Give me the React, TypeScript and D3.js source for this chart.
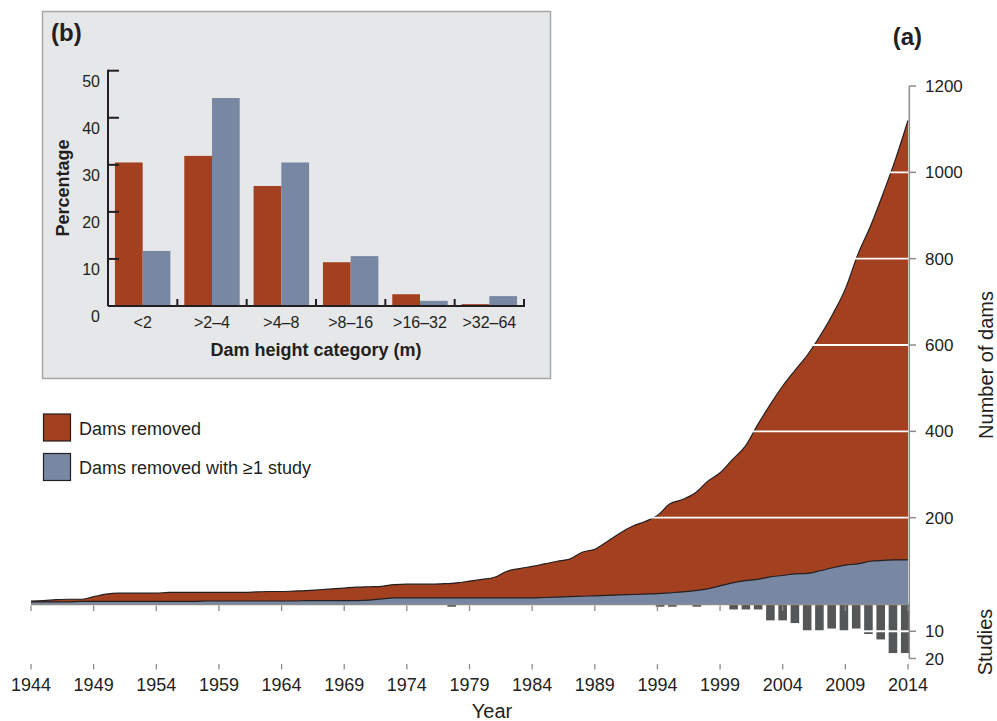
import * as d3 from 'd3'
import { useEffect } from 'react'

// panel (a): cumulative dam removals per year, 1944-2014
const years = d3.range(1944, 2015)
const damsRemoved = [
  7, 8, 10, 11, 11, 17, 23, 25, 25, 25, 25, 27, 27, 27, 27, 27, 27, 27, 28, 29,
  29, 30, 31, 33, 35, 37, 39, 40, 41, 45, 46, 46, 46, 47, 49, 53, 57, 62, 76, 82,
  87, 93, 99, 104, 120, 127, 145, 164, 180, 191, 205, 232, 242, 257, 284, 304, 335, 365, 415, 462,
  505, 542, 578, 622, 672, 730, 810, 875, 950, 1030, 1120,
]
const damsStudied = [
  5, 5, 5, 5, 6, 6, 6, 6, 6, 6, 6, 6, 6, 6, 7, 7, 7, 7, 7, 7,
  7, 7, 8, 8, 8, 8, 8, 9, 12, 14, 14, 14, 14, 14, 14, 14, 14, 14, 14, 14,
  14, 15, 16, 17, 18, 19, 20, 21, 22, 23, 24, 26, 28, 31, 35, 42, 49, 54, 57, 63,
  66, 70, 71, 77, 84, 90, 93, 99, 101, 102, 102,
]
const studyYears = [1977, 1994, 1995, 1997, 2000, 2001, 2002, 2003, 2004, 2005, 2006, 2007, 2008, 2009, 2010, 2011, 2012, 2013, 2014]
const studyCounts = [1, 1, 1, 1, 2, 2, 2, 6, 6, 7, 10, 10, 9, 10, 9, 11, 13, 18, 18]
const yearTicks = d3.range(1944, 2015, 5)
const damTicks = [200, 400, 600, 800, 1000, 1200]
const studyTicks = [10, 20]

// panel (b): share of dams by height class
const heightCats = ['<2', '>2–4', '>4–8', '>8–16', '>16–32', '>32–64']
const pctRemoved = [30.5, 31.9, 25.5, 9.3, 2.5, 0.4]
const pctStudied = [11.7, 44.2, 30.5, 10.6, 1.1, 2.1]
const pctTicks = [0, 10, 20, 30, 40, 50]

const RED = '#a3401f'
const BLUE = '#7888a3'
const BAR = '#555657'
const INK = '#231f20'
const AXIS = '#8c8c8c'
const FONT = '"Liberation Sans", Arial, Helvetica, sans-serif'

export default function App() {
  useEffect(() => {
    document.body.style.margin = '0'
  }, [])

  const x = d3.scaleLinear().domain([1944, 2014]).range([31, 908])
  const y = d3.scaleLinear().domain([0, 1200]).range([604, 86])
  const ys = d3.scaleLinear().domain([0, 20]).range([604, 658.5])
  const xBar = d3.scaleBand<number>().domain(years).range([43, 909.5]).paddingInner(0.3)

  const area = d3
    .area<number>()
    .x((_, i) => x(years[i]))
    .y0(y(0))
    .y1((d) => y(d))
    .curve(d3.curveMonotoneX)
  const line = d3
    .line<number>()
    .x((_, i) => x(years[i]))
    .y((d) => y(d))
    .curve(d3.curveMonotoneX)

  // inset scales
  const bx = d3.scaleBand<string>().domain(heightCats).range([108, 524]).paddingInner(0.2).paddingOuter(0.1)
  const bSub = d3.scaleBand<string>().domain(['removed', 'studied']).range([0, bx.bandwidth()])
  const by = d3.scaleLinear().domain([0, 50]).range([306, 70.7])
  const step = bx.step()

  return (
    <svg width={997} height={721} style={{ display: 'block', fontFamily: FONT }}>
      <rect width={997} height={721} fill="#fff" />

      {/* areas */}
      <path d={area(damsRemoved) ?? ''} fill={RED} />
      <path d={line(damsRemoved) ?? ''} fill="none" stroke={INK} strokeWidth={1.2} />
      <path d={area(damsStudied) ?? ''} fill={BLUE} />
      <path d={line(damsStudied) ?? ''} fill="none" stroke={INK} strokeWidth={1.2} />
      {damTicks.slice(0, -1).map((t) => (
        <line key={t} x1={x(1944)} x2={x(2014)} y1={y(t)} y2={y(t)} stroke="#fff" strokeWidth={1.8} />
      ))}

      {/* studies bars */}
      {studyYears.map((yr, i) => (
        <rect key={yr} x={xBar(yr)} y={ys(0)} width={xBar.bandwidth()} height={ys(studyCounts[i]) - ys(0)} fill={BAR} />
      ))}
      <line x1={x(1944)} x2={909} y1={ys(10)} y2={ys(10)} stroke="#fff" strokeWidth={1.8} />

      {/* baseline and x axis */}
      <line x1={x(1944)} x2={909} y1={604.5} y2={604.5} stroke={AXIS} strokeWidth={1.5} />
      {yearTicks.map((t) => (
        <g key={t}>
          <line x1={x(t)} x2={x(t)} y1={605.5} y2={611} stroke={AXIS} strokeWidth={1.3} />
          <line x1={x(t)} x2={x(t)} y1={664} y2={669.5} stroke={AXIS} strokeWidth={1.3} />
          <text x={x(t)} y={691} textAnchor="middle" fontSize={18} fill={INK}>
            {t}
          </text>
        </g>
      ))}
      <text x={492} y={718} textAnchor="middle" fontSize={20} fill={INK}>
        Year
      </text>

      {/* right axis */}
      <line x1={909.3} x2={909.3} y1={y(1200)} y2={ys(20)} stroke={AXIS} strokeWidth={1.5} />
      {damTicks.map((t) => (
        <g key={t}>
          <line x1={909.3} x2={916} y1={y(t)} y2={y(t)} stroke={AXIS} strokeWidth={1.5} />
          <text x={925} y={y(t)} dy="0.36em" fontSize={17} fill={INK}>
            {t}
          </text>
        </g>
      ))}
      {studyTicks.map((t) => (
        <g key={t}>
          <line x1={909.3} x2={916} y1={ys(t)} y2={ys(t)} stroke={AXIS} strokeWidth={1.5} />
          <text x={925} y={ys(t)} dy="0.36em" fontSize={17} fill={INK}>
            {t}
          </text>
        </g>
      ))}
      <text transform="translate(986,365) rotate(-90)" textAnchor="middle" dy="0.36em" fontSize={20} fill={INK}>
        Number of dams
      </text>
      <text transform="translate(985,642) rotate(-90)" textAnchor="middle" dy="0.36em" fontSize={20} fill={INK}>
        Studies
      </text>
      <text x={922} y={45} textAnchor="end" fontSize={24} fontWeight="bold" fill={INK}>
        (a)
      </text>

      {/* legend */}
      <rect x={43.5} y={414} width={27} height={27} fill={RED} stroke={INK} strokeWidth={1.2} />
      <text x={79} y={429} dy="0.36em" fontSize={18} fill={INK}>
        Dams removed
      </text>
      <rect x={43.5} y={453.5} width={27} height={27} fill={BLUE} stroke={INK} strokeWidth={1.2} />
      <text x={79} y={468} dy="0.36em" fontSize={18} fill={INK}>
        Dams removed with ≥1 study
      </text>

      {/* inset (b) */}
      <rect x={42.5} y={11.5} width={508} height={367} fill="#e6e7e9" stroke="#a6a6a6" strokeWidth={1.5} />
      <text x={51} y={41} fontSize={24} fontWeight="bold" fill={INK}>
        (b)
      </text>
      {heightCats.map((c, i) => (
        <g key={c}>
          <rect x={(bx(c) ?? 0) + (bSub('removed') ?? 0)} y={by(pctRemoved[i])} width={bSub.bandwidth()} height={by(0) - by(pctRemoved[i])} fill={RED} />
          <rect x={(bx(c) ?? 0) + (bSub('studied') ?? 0)} y={by(pctStudied[i])} width={bSub.bandwidth()} height={by(0) - by(pctStudied[i])} fill={BLUE} />
          <text x={(bx(c) ?? 0) + bx.bandwidth() / 2} y={322} dy="0.36em" textAnchor="middle" fontSize={16} fill={INK}>
            {c}
          </text>
          <line
            x1={(bx(c) ?? 0) + bx.bandwidth() + step * 0.1}
            x2={(bx(c) ?? 0) + bx.bandwidth() + step * 0.1}
            y1={by(0)}
            y2={by(0) - 7}
            stroke={INK}
            strokeWidth={2}
          />
        </g>
      ))}
      <line x1={108} x2={525} y1={by(0)} y2={by(0)} stroke={INK} strokeWidth={2} />
      <line x1={108} x2={108} y1={by(50) - 1} y2={by(0)} stroke={INK} strokeWidth={2} />
      {pctTicks.map((t) => (
        <g key={t}>
          {t > 0 && <line x1={108} x2={119} y1={by(t)} y2={by(t)} stroke={INK} strokeWidth={2} />}
          <text x={100} y={by(t) + 10.5} dy="0.36em" textAnchor="end" fontSize={16} fill={INK}>
            {t}
          </text>
        </g>
      ))}
      <text transform="translate(63,188) rotate(-90)" textAnchor="middle" dy="0.36em" fontSize={18} fontWeight="bold" fill={INK}>
        Percentage
      </text>
      <text x={316} y={350} dy="0.36em" textAnchor="middle" fontSize={18} fontWeight="bold" fill={INK}>
        Dam height category (m)
      </text>
    </svg>
  )
}
